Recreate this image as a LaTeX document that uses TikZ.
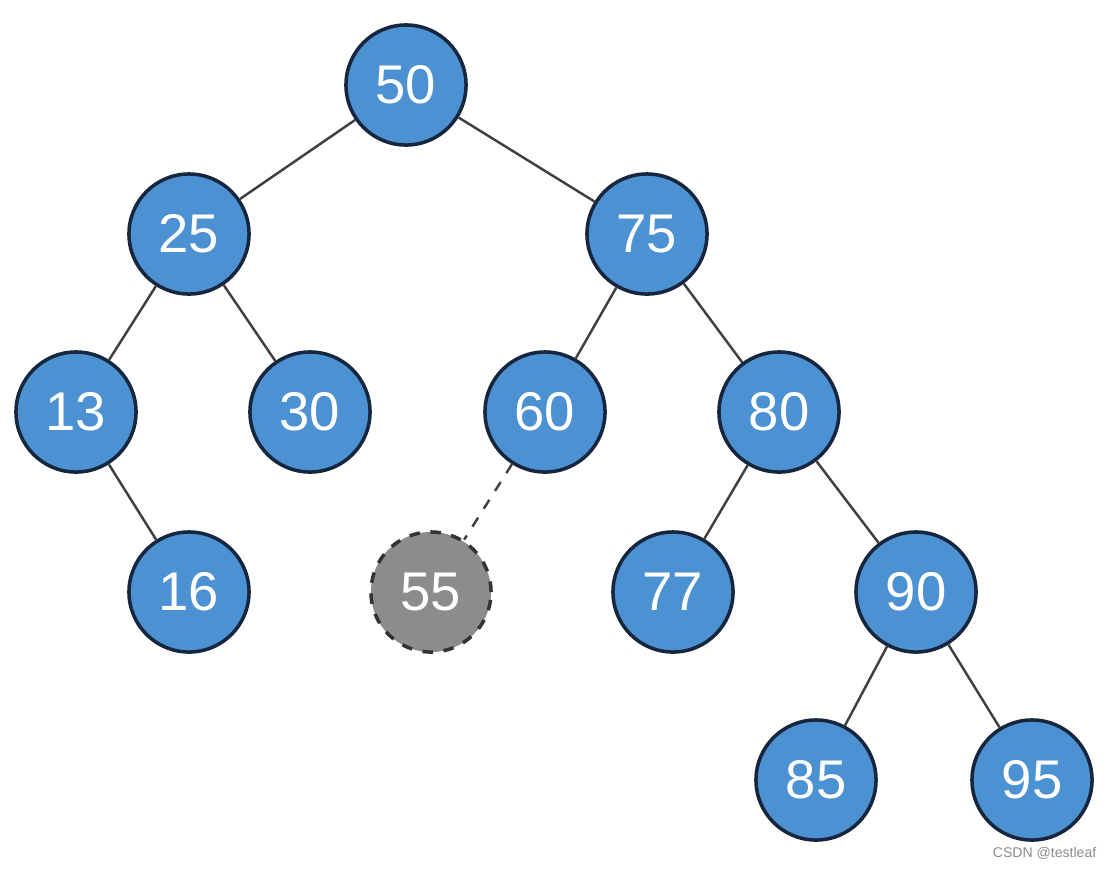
\documentclass[tikz,border=0pt]{standalone}
\usepackage{fontspec}
\setmainfont{Liberation Sans}
\usetikzlibrary{positioning}

\definecolor{keyblue}{RGB}{76,145,210}
\definecolor{keygray}{RGB}{140,140,142}
\definecolor{rimblue}{RGB}{22,38,62}

\begin{document}
\begin{tikzpicture}[x=0.01cm, y=-0.01cm,
    key/.style={circle, draw=rimblue, line width=1pt, fill=keyblue,
      minimum size=1.2cm, inner sep=0pt, text=white,
      font=\fontsize{15.5}{16}\selectfont},
    newkey/.style={key, fill=keygray, dashed, draw=black!80},
    link/.style={draw=black!75, line width=0.7pt}]
  \useasboundingbox (0, 0) rectangle (1109, 869);

  \foreach \k/\x/\y in {50/406/85, 25/189/234, 75/647/234, 13/76/412,
      30/310/412, 60/545/412, 80/779/412, 16/189/592, 77/673/592,
      90/916/592, 85/816/780, 95/1032/780} {
    \node[key] (n\k) at (\x, \y) {\k};
  }
  \node[newkey] (n55) at (431, 592) {55};

  \foreach \a/\b in {50/25, 50/75, 25/13, 25/30, 13/16, 75/60, 75/80,
      80/77, 80/90, 90/85, 90/95} {
    \draw[link] (n\a) -- (n\b);
  }
  \draw[link, dashed] (n60) -- (n55);

  \node[text=black!45, font=\fontsize{4}{4.5}\selectfont, anchor=east,
    inner sep=0pt] (mark) at (1097, 853) {CSDN @testleaf};
\end{tikzpicture}
\end{document}
